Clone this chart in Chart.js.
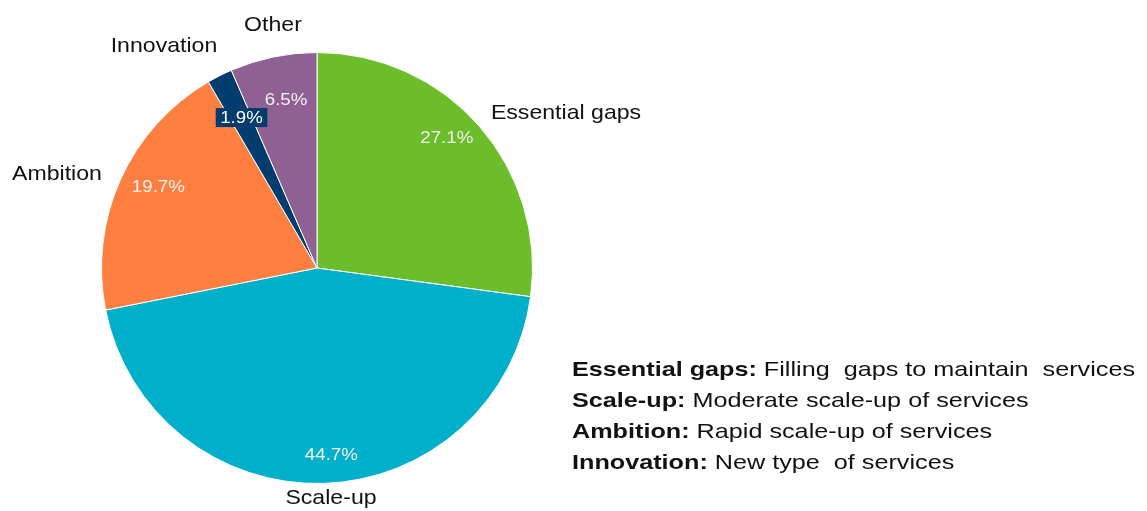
<!DOCTYPE html>
<html>
<head>
<meta charset="utf-8">
<script src="https://cdn.jsdelivr.net/npm/chart.js@4.4.1/dist/chart.umd.min.js"></script>
<style>
html,body{margin:0;padding:0;background:#fff;}
#wrap{position:relative;width:1147px;height:511px;}
</style>
</head>
<body>
<div id="wrap"><canvas id="c" width="1147" height="511"></canvas></div>
<script>
const categories = ['Essential gaps', 'Scale-up', 'Ambition', 'Innovation', 'Other'];
const values = [27.1, 44.7, 19.7, 1.9, 6.5];
const colors = ['#6BBE2A', '#00AFCA', '#FF7F41', '#003D6E', '#8E6192'];
const descTerms = ['Essential gaps:', 'Scale-up:', 'Ambition:', 'Innovation:'];
const descTexts = [' Filling  gaps to maintain  services', ' Moderate scale-up of services', ' Rapid scale-up of services', ' New type  of services'];

const FONT = '"Liberation Sans", Arial, sans-serif';

// label placement tuning (radius fraction and angular shift in degrees per slice)
const pctRadius = [0.854, 0.869, 0.828, 0.781, 0.795];
const pctShift = [-4.0, -2.6, 3.0, 0.2, 1.3];
const outsidePos = [[566, 113], [331, 498], [57, 174], [164, 46], [273, 25]];

function drawStretched(ctx, text, x, y, sx, align) {
  ctx.save();
  ctx.translate(x, y);
  ctx.scale(sx, 1);
  ctx.textAlign = align || 'center';
  ctx.fillText(text, 0, 0);
  ctx.restore();
}

const labelPlugin = {
  id: 'labels',
  afterDatasetsDraw(chart) {
    const ctx = chart.ctx;
    const meta = chart.getDatasetMeta(0);
    meta.data.forEach((arc, i) => {
      const mid = (arc.startAngle + arc.endAngle) / 2 + pctShift[i] * Math.PI / 180;
      const r = arc.outerRadius;
      const pr = r * pctRadius[i];
      const px = arc.x + Math.cos(mid) * pr;
      const py = arc.y + Math.sin(mid) * pr;
      ctx.font = '17px ' + FONT;
      ctx.textBaseline = 'middle';
      const txt = values[i].toFixed(1) + '%';
      const sx = 1.1;
      if (i === 3) {
        const w = ctx.measureText(txt).width * sx;
        ctx.fillStyle = colors[3];
        ctx.fillRect(px - w / 2 - 4.5, py - 9.5, w + 9, 19);
        ctx.fillStyle = '#FFFFFF';
      } else {
        ctx.fillStyle = '#F2F2F2';
      }
      drawStretched(ctx, txt, px, py + 0.5, sx, 'center');

      ctx.font = '21px ' + FONT;
      ctx.fillStyle = '#111';
      drawStretched(ctx, categories[i], outsidePos[i][0], outsidePos[i][1], 1.1, 'center');
    });

    // description block
    const x0 = 572;
    let y = 370;
    ctx.textBaseline = 'middle';
    const sx2 = 1.2;
    descTerms.forEach((t, i) => {
      ctx.fillStyle = '#111';
      ctx.font = 'bold 21px ' + FONT;
      const bw = ctx.measureText(t).width * sx2;
      drawStretched(ctx, t, x0, y, sx2, 'left');
      ctx.font = '21px ' + FONT;
      drawStretched(ctx, descTexts[i], x0 + bw, y, sx2, 'left');
      y += 31;
    });
  }
};

new Chart(document.getElementById('c'), {
  type: 'pie',
  data: {
    labels: categories,
    datasets: [{
      data: values,
      backgroundColor: colors,
      borderColor: '#ffffff',
      borderWidth: 1
    }]
  },
  options: {
    responsive: false,
    animation: false,
    layout: { padding: { left: 101, right: 614, top: 52, bottom: 27 } },
    plugins: { legend: { display: false }, tooltip: { enabled: false } }
  },
  plugins: [labelPlugin]
});
</script>
</body>
</html>
